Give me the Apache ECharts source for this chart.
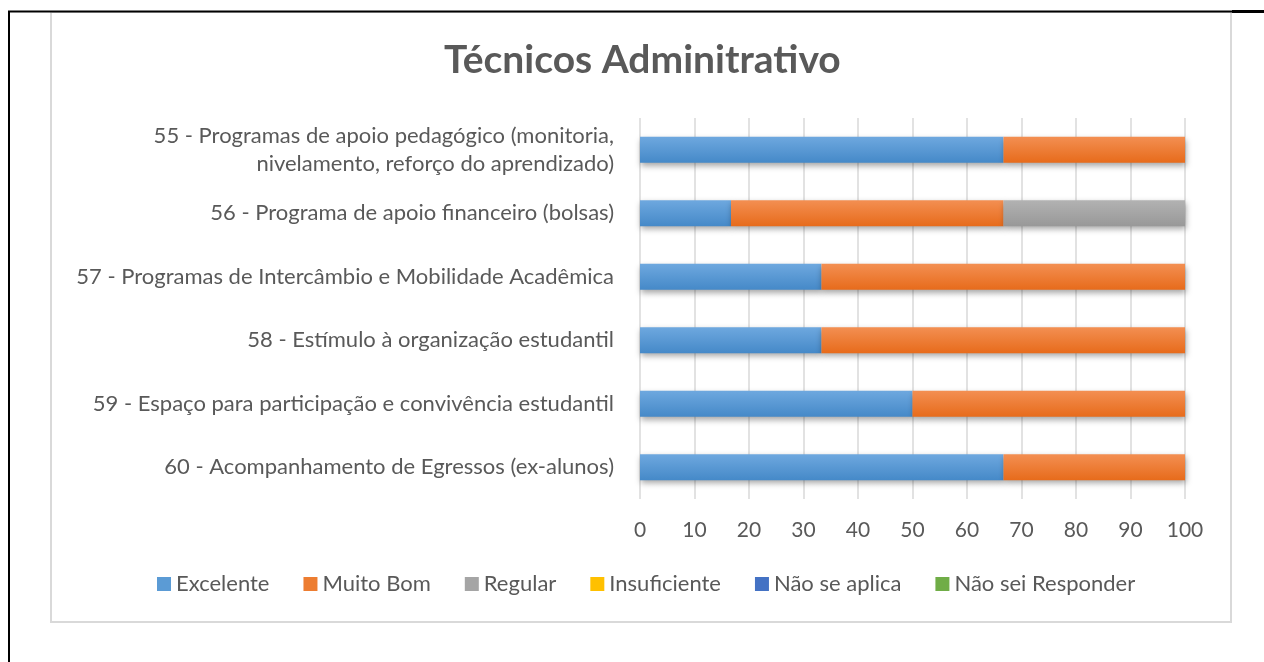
<!DOCTYPE html>
<html><head><meta charset="utf-8">
<script src="https://cdn.jsdelivr.net/npm/echarts@6/dist/echarts.min.js"></script>
<style>html,body{margin:0;padding:0;background:#fff}#c{width:1264px;height:662px}</style>
</head><body><div id="c"></div>
<script>
const categories = [
  "55 - Programas de apoio pedagógico (monitoria,\nnivelamento, reforço do aprendizado)",
  "56 - Programa de apoio financeiro (bolsas)",
  "57 - Programas de Intercâmbio e Mobilidade Acadêmica",
  "58 - Estímulo à organização estudantil",
  "59 - Espaço para participação e convivência estudantil",
  "60 - Acompanhamento de Egressos (ex-alunos)"
];
const excelente   = [66.7, 16.7, 33.3, 33.3, 50, 66.7];
const muitoBom    = [33.3, 50, 66.7, 66.7, 50, 33.3];
const regular     = [0, 33.3, 0, 0, 0, 0];
const insuficiente= [0, 0, 0, 0, 0, 0];
const naoSeAplica = [0, 0, 0, 0, 0, 0];
const naoSei      = [0, 0, 0, 0, 0, 0];
const seriesNames = ["Excelente","Muito Bom","Regular","Insuficiente","Não se aplica","Não sei Responder"];
const xTicks = [0,10,20,30,40,50,60,70,80,90,100];

const FONT = "Lato";
function grad(top, bottom){
  return new echarts.graphic.LinearGradient(0,0,0,1,[{offset:0,color:top},{offset:1,color:bottom}]);
}
const styles = [
  {legend:"#5b9bd5", fill:grad("#6ea8df","#4589c8")},
  {legend:"#ed7d31", fill:grad("#f38f52","#e76b1b")},
  {legend:"#a5a5a5", fill:grad("#b2b2b2","#989898")},
  {legend:"#ffc000", fill:grad("#ffc933","#f0b400")},
  {legend:"#4472c4", fill:grad("#5580cc","#3a66b5")},
  {legend:"#70ad47", fill:grad("#7cb756","#62a03b")}
];
const datas = [excelente, muitoBom, regular, insuficiente, naoSeAplica, naoSei];

const chart = echarts.init(document.getElementById('c'), null, {renderer:'canvas'});
chart.setOption({
  animation:false,
  backgroundColor:'#fff',
  title:{text:"Técnicos Adminitrativo", left:444, top:41, padding:0,
    textStyle:{fontFamily:FONT, fontSize:39, fontWeight:'bold', color:'#595959'}},
  legend:{bottom:67, left:157, itemWidth:14, itemHeight:14, itemGap:34, icon:'rect', padding:0,
    textStyle:{fontFamily:FONT, fontSize:22, color:'#595959', padding:[0,0,0,0]},
    data: seriesNames.map((n,i)=>({name:n, itemStyle:{color:styles[i].legend, shadowBlur:0}}))},
  grid:{left:640, right:79, top:118, bottom:163},
  xAxis:{type:'value', min:0, max:100, interval:10,
    axisLine:{show:false}, axisTick:{show:false},
    splitLine:{lineStyle:{color:'#d9d9d9', width:1.5}},
    axisLabel:{fontFamily:FONT, fontSize:21, color:'#595959', margin:21,
      formatter:v=>xTicks.includes(v)?String(v):''}},
  yAxis:{type:'category', inverse:true, data:categories,
    axisLine:{show:false}, axisTick:{show:false},
    axisLabel:{fontFamily:FONT, fontSize:22, color:'#595959', margin:26, lineHeight:28, align:'right'}},
  graphic:[
    {type:'rect', shape:{x:51,y:12,width:1180,height:610}, style:{fill:'none', stroke:'#d9d9d9', lineWidth:2}, z:-1},
    {type:'line', shape:{x1:8,y1:11.5,x2:1232,y2:11.5}, style:{stroke:'#000', lineWidth:2}},
    {type:'line', shape:{x1:1232,y1:11.5,x2:1264,y2:11.5}, style:{stroke:'#000', lineWidth:3}},
    {type:'line', shape:{x1:9,y1:11,x2:9,y2:662}, style:{stroke:'#000', lineWidth:2}}
  ],
  series: seriesNames.map((n,i)=>({
    name:n, type:'bar', stack:'total', barWidth:'41%', data:datas[i],
    itemStyle:{color:styles[i].fill, shadowColor:'rgba(0,0,0,0.35)', shadowBlur:6, shadowOffsetY:3, shadowOffsetX:1},
    emphasis:{disabled:true}
  }))
});
</script></body></html>
